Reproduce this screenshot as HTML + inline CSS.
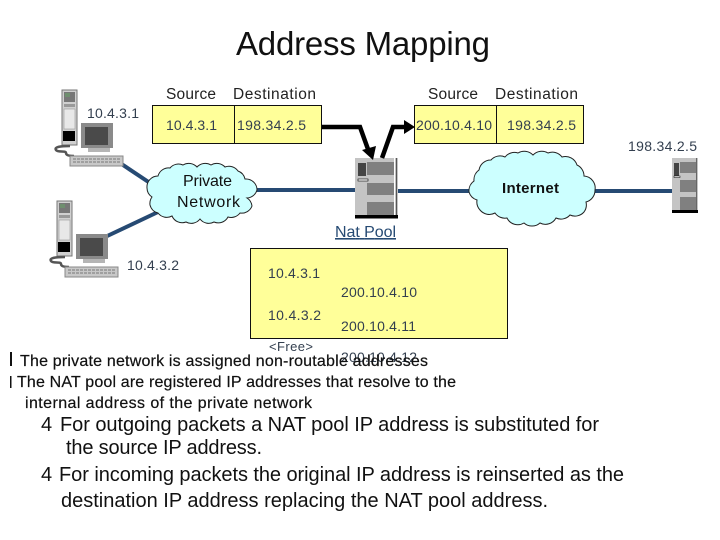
<!DOCTYPE html>
<html><head><meta charset="utf-8"><style>
html,body{margin:0;padding:0;background:#fff;width:720px;height:540px;overflow:hidden}
svg{display:block}
text{font-family:"Liberation Sans",sans-serif;fill:#111;white-space:pre}
.n{font-size:14px;fill:#333f4f}
.l{font-size:15.500px;fill:#222}
.b{font-size:16px;fill:#111;stroke:#111;stroke-width:.2px}
.t{font-size:20px;fill:#111}
</style></head><body>
<svg width="720" height="540" viewBox="0 0 720 540" xmlns="http://www.w3.org/2000/svg">
<defs>
<g id="pc">
<rect x="62" y="90" width="15" height="55" fill="#d0d0d0" stroke="#777" stroke-width="1"/>
<rect x="64" y="92" width="11" height="10" fill="#777"/>
<rect x="65" y="93" width="5" height="4" fill="#6f8f6f"/>
<rect x="64" y="104" width="11" height="3" fill="#999"/>
<rect x="64" y="109" width="11" height="20" fill="#e8e8e8" stroke="#999" stroke-width=".6"/>
<rect x="63" y="131" width="12" height="10" fill="#000"/>
<rect x="81" y="123" width="32" height="25" fill="#8a8a8a"/>
<rect x="85" y="127" width="23" height="18" fill="#4a4a4a"/>
<rect x="88" y="148" width="22" height="4" fill="#b5b5b5"/>
<path d="M70 146C60 146 54 147 56 150S66 150 66 153S72 156 74 156" fill="none" stroke="#555" stroke-width="2.500"/>
<rect x="70" y="156" width="53" height="10" fill="#c8c8c8" stroke="#888" stroke-width="1"/>
<path d="M73 159H120M73 162H120" stroke="#777" stroke-width="1" stroke-dasharray="3 1"/>
</g>
</defs>

<text x="236" y="55" font-size="33" textLength="254">Address Mapping</text>

<g stroke="#264a73" stroke-width="4" fill="none">
<path d="M120 163L153 185"/>
<path d="M103 238L158 212"/>
<path d="M255 190H355"/>
<path d="M398 191H472"/>
<path d="M593 191H672"/>
</g>

<use href="#pc"/>
<use href="#pc" transform="translate(-5,111)"/>

<!-- NAT server -->
<rect x="355" y="158" width="43" height="58" fill="#c4c4c4"/>
<rect x="367" y="162" width="27" height="13" fill="#808080"/>
<rect x="367" y="183" width="27" height="12" fill="#808080"/>
<rect x="367" y="202" width="27" height="14" fill="#808080"/>
<rect x="358" y="163" width="8" height="13" fill="#444"/>
<rect x="358" y="179" width="10" height="2" fill="#fff" stroke="#000" stroke-width=".6"/>
<rect x="394" y="158" width="1" height="58" fill="#fff"/>
<rect x="396" y="158" width="1" height="58" fill="#555"/>
<rect x="355" y="215" width="43" height="3.500" fill="#000"/>

<!-- Remote server -->
<rect x="672" y="158" width="26" height="52" fill="#c4c4c4"/>
<rect x="680" y="162" width="16" height="11" fill="#808080"/>
<rect x="680" y="180" width="16" height="12" fill="#808080"/>
<rect x="680" y="197" width="16" height="13" fill="#808080"/>
<rect x="674" y="163" width="5" height="13" fill="#444"/>
<rect x="674" y="176" width="6" height="1.500" fill="#fff" stroke="#000" stroke-width=".5"/>
<rect x="696" y="158" width="1" height="52" fill="#666"/>
<rect x="672" y="210" width="26" height="3" fill="#000"/>

<path d="M158 176A11 11 0 0 1 170 168A11 11 0 0 1 183 165A11 11 0 0 1 197 167A11 11 0 0 1 211 165A11 11 0 0 1 225 167A11 11 0 0 1 238 171A11 11 0 0 1 245 179A11 11 0 0 1 257 190A11 11 0 0 1 247 198A11 11 0 0 1 252 206A11 11 0 0 1 240 213A11 11 0 0 1 228 217A11 11 0 0 1 214 222A11 11 0 0 1 200 219A11 11 0 0 1 186 222A11 11 0 0 1 172 216A11 11 0 0 1 158 213A11 11 0 0 1 150 205A11 11 0 0 1 152 197A11 11 0 0 1 147 188A11 11 0 0 1 158 176Z" fill="#ccffff" stroke="#222" stroke-width="1"/>
<path d="M479 170A12 12 0 0 1 491 160A12 12 0 0 1 505 157A12 12 0 0 1 518 153A12 12 0 0 1 533 155A12 12 0 0 1 548 153A12 12 0 0 1 562 157A12 12 0 0 1 577 165A12 12 0 0 1 584 176A12 12 0 0 1 595 190A12 12 0 0 1 586 202A12 12 0 0 1 584 212A12 12 0 0 1 570 215A12 12 0 0 1 556 218A12 12 0 0 1 540 223A12 12 0 0 1 524 223A12 12 0 0 1 507 218A12 12 0 0 1 495 213A12 12 0 0 1 480 210A12 12 0 0 1 477 200A12 12 0 0 1 469 192A12 12 0 0 1 474 181A12 12 0 0 1 479 170Z" fill="#ccffff" stroke="#222" stroke-width="1"/>

<rect x="152.500" y="105.500" width="169" height="38" fill="#ffff99" stroke="#111"/>
<path d="M234.500 105V143" stroke="#111"/>
<rect x="414.500" y="105.500" width="169" height="38" fill="#ffff99" stroke="#111"/>
<path d="M496.500 105V143" stroke="#111"/>
<rect x="250.500" y="248.500" width="257" height="90" fill="#ffff99" stroke="#111"/>

<path d="M322 127H360L369 152" fill="none" stroke="#000" stroke-width="4.500"/>
<path d="M362 150L373 160L376 146Z" fill="#000"/>
<path d="M382 158L393 127H406" fill="none" stroke="#000" stroke-width="4.500"/>
<path d="M404 120L415 127L404 134Z" fill="#000"/>

<text class="l" x="166" y="99" textLength="50">Source</text>
<text class="l" x="233" y="99" textLength="83">Destination</text>
<text class="l" x="428" y="99" textLength="50">Source</text>
<text class="l" x="495" y="99" textLength="83">Destination</text>
<text class="n" x="87" y="118" textLength="52">10.4.3.1</text>
<text class="n" x="166" y="130" textLength="51">10.4.3.1</text>
<text class="n" x="237" y="130" textLength="69">198.34.2.5</text>
<text class="n" x="416" y="130" textLength="76">200.10.4.10</text>
<text class="n" x="507" y="130" textLength="69">198.34.2.5</text>
<text class="n" x="628" y="151" textLength="69">198.34.2.5</text>
<text x="183" y="186" font-size="16" textLength="49">Private</text>
<text x="177" y="207" font-size="16" textLength="63">Network</text>
<text x="502" y="193" font-size="15" font-weight="bold" textLength="57">Internet</text>
<text x="335" y="237" font-size="16" textLength="61" style="fill:#264a73" text-decoration="underline">Nat Pool</text>
<text class="n" x="127" y="270" textLength="52">10.4.3.2</text>
<text class="n" x="268" y="278" textLength="52">10.4.3.1</text>
<text class="n" x="341" y="297" textLength="76">200.10.4.10</text>
<text class="n" x="268" y="320" textLength="53">10.4.3.2</text>
<text class="n" x="341" y="331" textLength="75">200.10.4.11</text>
<text class="n" x="269" y="351" style="font-size:13px" textLength="44">&lt;Free&gt;</text>
<text class="n" x="341" y="362" textLength="76">200.10.4.12</text>

<rect x="10" y="352" width="2" height="14" fill="#111"/>
<text class="b" x="20" y="366" textLength="408">The private network is assigned non-routable addresses</text>
<rect x="10" y="376" width="1.500" height="12" fill="#111"/>
<text class="b" x="17" y="387" textLength="439">The NAT pool are registered IP addresses that resolve to the</text>
<text class="b" x="25" y="408" textLength="287">internal address of the private network</text>
<text class="t" x="41" y="431">4</text>
<text class="t" x="60" y="431" textLength="539">For outgoing packets a NAT pool IP address is substituted for</text>
<text class="t" x="66" y="454" textLength="196">the source IP address.</text>
<text class="t" x="41" y="481">4</text>
<text class="t" x="59" y="481" textLength="565">For incoming packets the original IP address is reinserted as the</text>
<text class="t" x="61" y="507" textLength="487">destination IP address replacing the NAT pool address.</text>
</svg>
</body></html>
